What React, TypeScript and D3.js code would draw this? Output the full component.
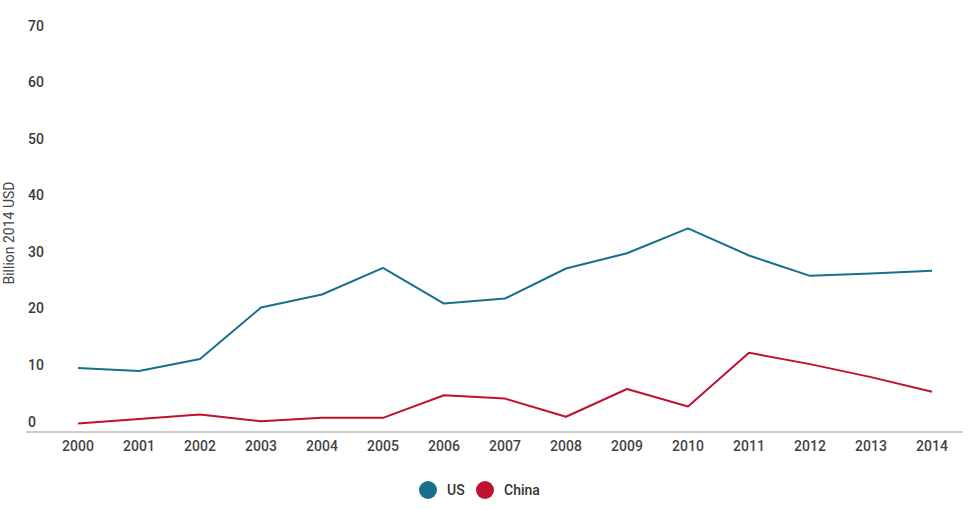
import React from "react";
import * as d3 from "d3";

const years = [2000, 2001, 2002, 2003, 2004, 2005, 2006, 2007, 2008, 2009, 2010, 2011, 2012, 2013, 2014];
const usValues = [11.3, 10.8, 12.9, 22.0, 24.3, 29.0, 22.7, 23.6, 28.9, 31.6, 36.0, 31.2, 27.6, 28.0, 28.5];
const chinaValues = [1.5, 2.3, 3.1, 1.9, 2.5, 2.5, 6.5, 5.9, 2.7, 7.6, 4.5, 14.0, 12.0, 9.7, 7.1];
const yTicks = [0, 10, 20, 30, 40, 50, 60, 70];
const seriesNames = ["US", "China"];
const seriesColors = ["#17708b", "#c0112e"];

const W = 973;
const H = 510;

export default function App() {
  const x = d3.scaleLinear().domain([2000, 2014]).range([78, 932]);
  const y = d3.scaleLinear().domain([0, 70]).range([432, 36]);
  const line = d3
    .line<number>()
    .x((_, i) => x(years[i]))
    .y((d) => y(d));
  const series = [usValues, chinaValues];
  const font = "Roboto, 'Noto Sans', sans-serif";

  return (
    <svg
      width={W}
      height={H}
      style={{ position: "absolute", left: 0, top: 0, background: "#fff" }}
      fontFamily={font}
    >
      {yTicks.map((t) => (
        <text key={t} x={28} y={y(t) - 5.5} fontSize={14} fontWeight={500} fill="#3a3a3a">
          {t}
        </text>
      ))}
      <text
        transform={`translate(14, 233) rotate(-90)`}
        textAnchor="middle"
        fontSize={14}
        fill="#444"
      >
        Billion 2014 USD
      </text>
      <line x1={26} x2={963} y1={y(0)} y2={y(0)} stroke="#cccccc" strokeWidth={2} />
      {years.map((yr) => (
        <text key={yr} x={x(yr)} y={451} textAnchor="middle" fontSize={14} fontWeight={500} fill="#444">
          {yr}
        </text>
      ))}
      {series.map((s, i) => (
        <path key={i} d={line(s) || ""} fill="none" stroke={seriesColors[i]} strokeWidth={2} strokeLinejoin="round" />
      ))}
      <g>
        <circle cx={428} cy={490} r={9} fill={seriesColors[0]} />
        <text x={447} y={495} fontSize={14} fontWeight={500} fill="#333">
          {seriesNames[0]}
        </text>
        <circle cx={485} cy={490} r={9} fill={seriesColors[1]} />
        <text x={504} y={495} fontSize={14} fontWeight={500} fill="#333">
          {seriesNames[1]}
        </text>
      </g>
    </svg>
  );
}
